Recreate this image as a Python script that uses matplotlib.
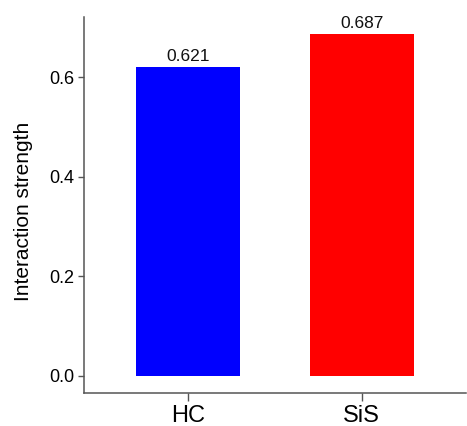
import matplotlib
matplotlib.use('Agg')
import matplotlib.pyplot as plt

plt.rcParams['font.family'] = ['Liberation Sans', 'DejaVu Sans']

# data
groups = ['HC', 'SiS']
strength = [0.621, 0.687]
bar_colors = ['#0000ff', '#ff0000']
bar_text = ['0.621', '0.687']
yticks = [0.0, 0.2, 0.4, 0.6]

fig = plt.figure(figsize=(4.67, 4.26), dpi=100)
# axes box in pixels: left 84, right 466, top 17, bottom 393
W, H = 467, 426
ax = fig.add_axes([84 / W, (H - 393) / H, (466 - 84) / W, (393 - 17) / H])

x = list(range(len(groups)))
bars = ax.bar(x, strength, width=0.6, color=bar_colors, edgecolor='none')

for b, t in zip(bars, bar_text):
    ax.text(b.get_x() + b.get_width() / 2, b.get_height() + 0.006, t,
            ha='center', va='bottom', fontsize=12.5, color='#111111')

ax.set_xlim(-0.6, 1.6)
ax.set_ylim(-0.035, 0.721)
ax.set_xticks(x)
ax.set_xticklabels(groups, fontsize=17)
ax.set_yticks(yticks)
ax.set_yticklabels(['%.1f' % v for v in yticks], fontsize=13)
ax.set_ylabel('Interaction strength', fontsize=15)
ax.yaxis.set_label_coords(-0.133, 0.484)

for s in ['top', 'right']:
    ax.spines[s].set_visible(False)
for s in ['left', 'bottom']:
    ax.spines[s].set_color('#555555')
    ax.spines[s].set_linewidth(1.1)

ax.tick_params(axis='y', length=4, width=1, color='#555555', pad=3)
ax.tick_params(axis='x', length=6, width=1, color='#555555', pad=3)

fig.savefig('out.png', dpi=100)
